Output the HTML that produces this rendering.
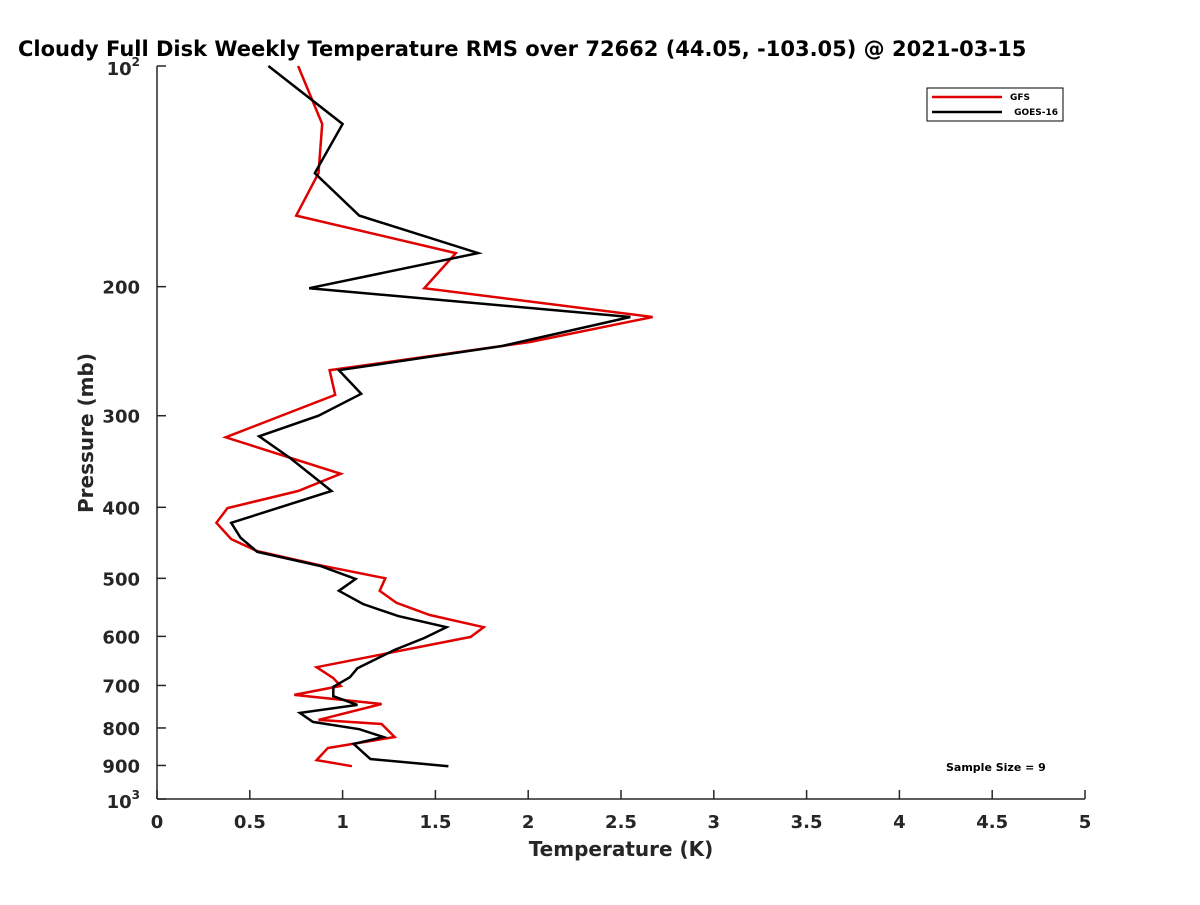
<!DOCTYPE html>
<html><head><meta charset="utf-8"><style>
body{margin:0;background:#fff}
svg text{font-family:"DejaVu Sans","Liberation Sans",sans-serif;font-weight:bold;fill:#262626}
</style></head><body>
<svg id="chart" width="1200" height="900" xmlns="http://www.w3.org/2000/svg">
<rect width="1200" height="900" fill="#fff"/>
<text x="18" y="56" font-size="21" style="fill:#000">Cloudy Full Disk Weekly Temperature RMS over 72662 (44.05, -103.05) @ 2021-03-15</text>
<g id="axes"></g>
<g id="series"></g>
<text transform="translate(93,433) rotate(-90)" text-anchor="middle" font-size="20">Pressure (mb)</text>
<text x="621" y="856" text-anchor="middle" font-size="20">Temperature (K)</text>
<g>
<rect x="927" y="88" width="136" height="33" fill="#fff" stroke="#000" stroke-width="1"/>
<line x1="932" y1="97" x2="1002" y2="97" stroke="#e00000" stroke-width="2.5"/>
<text x="1030" y="100" font-size="9" text-anchor="end" style="fill:#000">GFS</text>
<line x1="932" y1="112" x2="1002" y2="112" stroke="#000" stroke-width="2.5"/>
<text x="1058" y="115" font-size="9" text-anchor="end" style="fill:#000">GOES-16</text>
</g>
<text x="946" y="771" font-size="11" style="fill:#000">Sample Size = 9</text>
</svg>
<script>
const xTicks=[0,0.5,1,1.5,2,2.5,3,3.5,4,4.5,5];
const xTickLabels=["0","0.5","1","1.5","2","2.5","3","3.5","4","4.5","5"];
const yTicks=[200,300,400,500,600,700,800,900];
const yTickLabels=["200","300","400","500","600","700","800","900"];
const gfsT=[0.76,0.89,0.87,0.75,1.61,1.44,2.67,2.01,0.93,0.96,0.37,0.99,0.76,0.38,0.32,0.40,0.54,0.88,1.23,1.20,1.29,1.47,1.76,1.69,0.86,0.95,0.99,0.74,1.21,0.87,1.21,1.28,0.92,0.86,1.05];
const gfsP=[100,120,140,160,180,201,220,238,260,281,321,360,380,401,420,442,459,480,500,520,540,561,583,601,661,684,701,721,742,780,790,823,852,885,902];
const goesT=[0.60,1.00,0.85,1.09,1.73,0.82,2.55,1.86,0.98,1.10,0.87,0.55,0.72,0.94,0.40,0.45,0.54,0.88,1.07,0.98,1.11,1.30,1.56,1.44,1.28,1.08,1.04,0.95,0.95,1.08,0.77,0.84,1.09,1.22,1.06,1.15,1.57];
const goesP=[100,120,140,160,180,201,220,241,260,280,300,320,343,380,420,440,460,481,501,520,542,563,583,603,626,663,682,703,724,744,763,785,803,823,841,882,902];
const X0=157,X1=1085,Y0=66,Y1=799;
const xs=v=>X0+(X1-X0)*v/5;
const ys=p=>Y0+(Y1-Y0)*(Math.log10(p)-2);
const NS="http://www.w3.org/2000/svg";
function mk(t,a,parent){const e=document.createElementNS(NS,t);for(const k in a)e.setAttribute(k,a[k]);parent.appendChild(e);return e;}
const axes=document.getElementById('axes');
const xl=mk('line',{x1:X0,y1:Y1,x2:X1,y2:Y1,stroke:'#262626','stroke-width':1.5},axes);


const yl=mk('line',{x1:X0,y1:Y0,x2:X0,y2:Y1,stroke:'#262626','stroke-width':1.5},axes);


xTicks.forEach((v,i)=>{
 const x=xs(v);
 mk('line',{x1:x,y1:Y1,x2:x,y2:Y1-9,stroke:'#262626','stroke-width':1.5},axes);
 const t=mk('text',{x:x,y:Y1+29,'text-anchor':'middle','font-size':18},axes);
 t.textContent=xTickLabels[i];
 
 
});
const yAll=[100].concat(yTicks,[1000]);
yAll.forEach(p=>{const y=ys(p);mk('line',{x1:X0,y1:y,x2:X0+9,y2:y,stroke:'#262626','stroke-width':1.5},axes);});
yTicks.forEach((p,i)=>{
 const t=mk('text',{x:X0-17,y:ys(p)+7,'text-anchor':'end','font-size':18},axes);
 t.textContent=yTickLabels[i];
 
 
});
[[100,'2'],[1000,'3']].forEach(([p,e])=>{
 const t=mk('text',{x:X0-17,y:ys(p)+9,'text-anchor':'end','font-size':18},axes);
 t.innerHTML='10<tspan dy="-9" font-size="12">'+e+'</tspan>';
 
 
});
const ser=document.getElementById('series');
function line(T,P,color,name){
 const pts=T.map((t,i)=>xs(t).toFixed(1)+','+ys(P[i]).toFixed(1)).join(' ');
 const pl=mk('polyline',{points:pts,fill:'none',stroke:color,'stroke-width':2.5,'stroke-linejoin':'miter'},ser);
 
 
}
line(gfsT,gfsP,'#e00000','gfs-line');
line(goesT,goesP,'#000','goes16-line');
</script>
</body></html>
